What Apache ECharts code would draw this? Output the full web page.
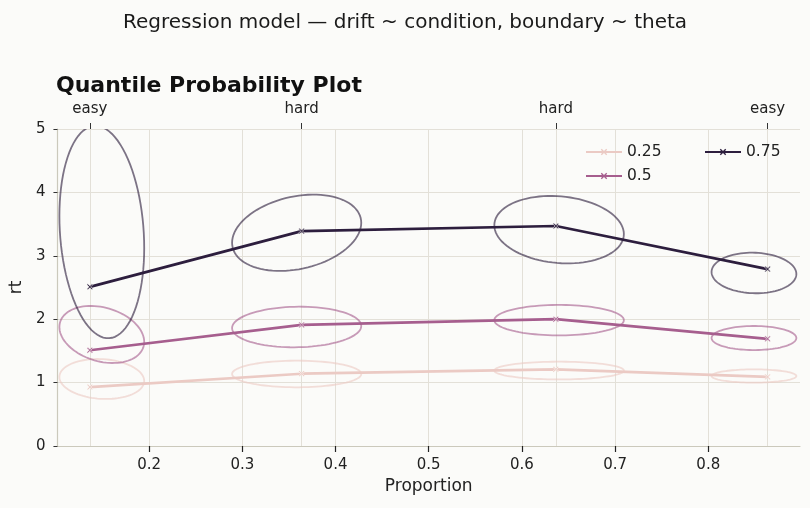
<!DOCTYPE html>
<html>
<head>
<meta charset="utf-8">
<script src="https://cdn.jsdelivr.net/npm/echarts@6/dist/echarts.min.js"></script>
<style>
html, body { margin: 0; padding: 0; background: #fbfbf9; }
#chart-0 { width: 810px; height: 508px; }
</style>
</head>
<body>
<div id="chart-0"></div>
<script>
// data
var proportions = [0.1364, 0.3636, 0.6364, 0.8636];
var conditions = ['easy', 'hard', 'hard', 'easy'];
var xTicks = [0.2, 0.3, 0.4, 0.5, 0.6, 0.7, 0.8];
var quantiles = ['0.25', '0.5', '0.75'];
var rt25 = [0.93, 1.14, 1.21, 1.09];
var rt50 = [1.51, 1.91, 2.00, 1.69];
var rt75 = [2.51, 3.39, 3.47, 2.79];
// ellipses: [centre x, centre rt, half width, half height, tilt]
var ell25 = [[0.1492, 1.057, 0.0455, 0.315, -0.1], [0.3583, 1.136, 0.0693, 0.21, 0.0], [0.6399, 1.19, 0.0695, 0.14, 0.0], [0.849, 1.104, 0.0455, 0.105, 0.0]];
var ell50 = [[0.1492, 1.759, 0.0455, 0.45, -0.26], [0.3583, 1.877, 0.0693, 0.32, 0.05], [0.6399, 1.985, 0.0695, 0.24, 0.0], [0.849, 1.703, 0.0455, 0.19, 0.0]];
var ell75 = [[0.1492, 3.375, 0.0455, 1.675, -0.15], [0.3583, 3.363, 0.0693, 0.602, 0.26], [0.6399, 3.412, 0.0695, 0.532, -0.13], [0.849, 2.729, 0.0455, 0.32, -0.05]];

var colors = ['#ebcac4', '#a65e8e', '#2d1e3e'];
var font = 'DejaVu Sans';
var xMin = 0.1016, xMax = 0.8984;
var crossIcon = 'path://M1.5,0 L5,3.5 L8.5,0 L10,1.5 L6.5,5 L10,8.5 L8.5,10 L5,6.5 L1.5,10 L0,8.5 L3.5,5 L0,1.5 Z';

var chart = echarts.init(document.getElementById('chart-0'));

function pairs(ys) {
    var out = [];
    for (var i = 0; i < ys.length; i++) out.push([proportions[i], ys[i]]);
    return out;
}

function EllipseSeries(data, color) {
    return {
        type: 'custom',
        clip: true,
        silent: true,
        z: 1,
        data: data,
        encode: { x: 0, y: 1 },
        renderItem: function(params, api) {
            var cx = api.value(0), cy = api.value(1);
            var hw = api.value(2), hh = api.value(3), r = api.value(4);
            var s = Math.sqrt(1 - r * r);
            var pts = [];
            for (var i = 0; i < 90; i++) {
                var t = i / 90 * Math.PI * 2;
                pts.push(api.coord([cx + hw * Math.cos(t), cy + hh * (r * Math.cos(t) + s * Math.sin(t))]));
            }
            return {
                type: 'polygon',
                shape: { points: pts },
                style: { fill: 'none', stroke: color, lineWidth: 1.8, opacity: 0.62 }
            };
        }
    };
}

function LineSeries(name, ys, color) {
    return {
        name: name,
        type: 'line',
        z: 3,
        data: pairs(ys),
        symbol: crossIcon,
        symbolSize: 6,
        itemStyle: { color: color, borderColor: '#fbfbf9', borderWidth: 0.6 },
        lineStyle: { color: color, width: 2.7 }
    };
}

var Legend = function(names, left) {
    return {
        data: names,
        orient: 'vertical',
        left: left,
        top: 139,
        itemWidth: 36,
        itemHeight: 8,
        itemGap: 8,
        itemStyle: { borderWidth: 0 },
        textStyle: { fontFamily: font, fontSize: 15.5, color: '#222' }
    };
};

var option = {
    backgroundColor: '#fbfbf9',
    animation: false,
    textStyle: { fontFamily: font },
    title: [{
        text: 'Regression model — drift ~ condition, boundary ~ theta',
        left: 'center',
        top: 8,
        textStyle: { fontFamily: font, fontSize: 20, fontWeight: 'normal', color: '#1a1a1a' }
    }, {
        text: 'Quantile Probability Plot',
        left: 51,
        top: 70,
        textStyle: { fontFamily: font, fontSize: 22, fontWeight: 'bold', color: '#111' }
    }],
    legend: [Legend([quantiles[0], quantiles[1]], 580), Legend([quantiles[2]], 699)],
    grid: { left: 56, right: 10, top: 129, bottom: 62, containLabel: false },
    xAxis: [{
        type: 'value',
        position: 'bottom',
        min: xMin,
        max: xMax,
        name: 'Proportion',
        nameLocation: 'middle',
        nameGap: 32,
        nameTextStyle: { fontFamily: font, fontSize: 17, color: '#222' },
        axisLine: { show: true, onZero: false, lineStyle: { color: '#cbc9bc', width: 1.2 } },
        axisTick: { show: true, inside: false, length: 6, customValues: xTicks, lineStyle: { color: '#222', width: 1.2 } },
        axisLabel: { customValues: xTicks, fontFamily: font, fontSize: 15, color: '#222', margin: 12 },
        splitLine: { show: true, lineStyle: { color: '#e3e0d8', width: 1 } }
    }, {
        type: 'value',
        position: 'top',
        min: xMin,
        max: xMax,
        axisLine: { show: false, onZero: false },
        axisTick: { show: true, length: 6, customValues: proportions, lineStyle: { color: '#333' } },
        axisLabel: {
            customValues: proportions,
            fontFamily: font, fontSize: 15, color: '#222', margin: 12,
            formatter: function(v) {
                var best = 0;
                for (var i = 1; i < proportions.length; i++) {
                    if (Math.abs(proportions[i] - v) < Math.abs(proportions[best] - v)) best = i;
                }
                return conditions[best];
            }
        },
        splitLine: { show: true, lineStyle: { color: '#e3e0d8', width: 1 } }
    }],
    yAxis: {
        type: 'value',
        min: 0,
        max: 5,
        interval: 1,
        name: 'rt',
        nameLocation: 'middle',
        nameGap: 26,
        nameTextStyle: { fontFamily: font, fontSize: 17, color: '#222' },
        axisLine: { show: true, lineStyle: { color: '#cbc9bc', width: 1.2 } },
        axisTick: { show: true, length: 4, lineStyle: { color: '#333' } },
        axisLabel: { fontFamily: font, fontSize: 15, color: '#222', margin: 12 },
        splitLine: { show: true, lineStyle: { color: '#e3e0d8', width: 1 } }
    },
    series: [
        EllipseSeries(ell25, colors[0]),
        EllipseSeries(ell50, colors[1]),
        EllipseSeries(ell75, colors[2]),
        LineSeries(quantiles[0], rt25, colors[0]),
        LineSeries(quantiles[1], rt50, colors[1]),
        LineSeries(quantiles[2], rt75, colors[2])
    ]
};
chart.setOption(option);
</script>
</body>
</html>
